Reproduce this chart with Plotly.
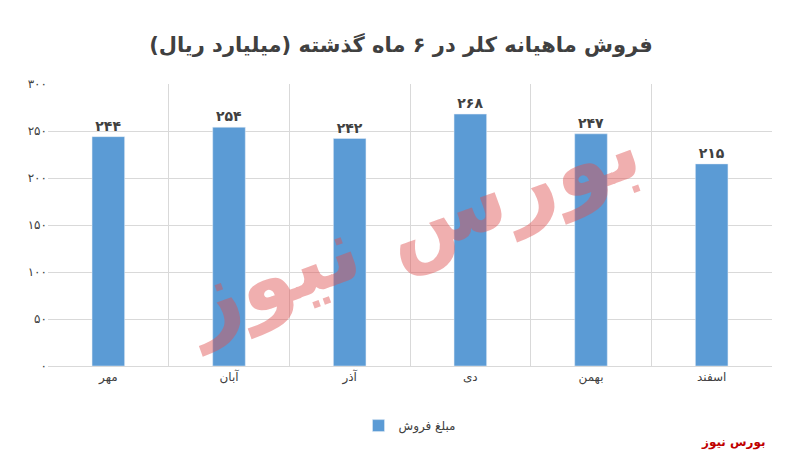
import plotly.graph_objects as go

months = ["مهر", "آبان", "آذر", "دی", "بهمن", "اسفند"]
sales = [244, 254, 242, 268, 247, 215]
sales_labels = ["۲۴۴", "۲۵۴", "۲۴۲", "۲۶۸", "۲۴۷", "۲۱۵"]
y_ticks = [0, 50, 100, 150, 200, 250, 300]
y_tick_text = ["۰", "۵۰", "۱۰۰", "۱۵۰", "۲۰۰", "۲۵۰", "۳۰۰"]

xs = list(range(len(months)))

fig = go.Figure()
fig.add_trace(go.Bar(
    x=xs, y=sales, name="مبلغ فروش", width=0.27,
    marker_color="#5b9bd5",
    text=["<b>" + t + "</b>" for t in sales_labels], textposition="outside",
    textfont=dict(size=14, color="#404040", family="DejaVu Sans"),
    cliponaxis=False,
))

fig.update_layout(
    width=786, height=453,
    paper_bgcolor="white", plot_bgcolor="white",
    title=dict(text="<b>فروش ماهیانه کلر در ۶ ماه گذشته (میلیارد ریال)</b>",
               x=0.5, y=0.935, font=dict(size=21, color="#404040", family="DejaVu Sans")),
    margin=dict(l=40, r=22, t=76, b=95),
    showlegend=True,
    legend=dict(orientation="h", x=0.5, xanchor="center", y=-0.16,
                font=dict(size=12, color="#404040", family="DejaVu Sans")),
    annotations=[
        dict(text="<b>بورس نیوز</b>", xref="paper", yref="paper", x=0.5, y=0.5,
             showarrow=False, textangle=-20, opacity=0.45,
             font=dict(size=90, color="#e05050", family="DejaVu Sans")),
        dict(text="<b>بورس نیوز</b>", xref="paper", yref="paper", x=0.995, y=-0.27,
             xanchor="right", yanchor="middle", showarrow=False,
             font=dict(size=12, color="#c00000", family="DejaVu Sans")),
    ],
)
fig.update_xaxes(
    range=[-0.5, 5.5], tickvals=xs, ticktext=months, showgrid=False,
    showline=True, linecolor="#d9d9d9", ticks="",
    tickfont=dict(size=12, color="#404040", family="DejaVu Sans"),
    minor=dict(tickvals=[i + 0.5 for i in xs[:-1]], showgrid=True, gridcolor="#d9d9d9"),
)
fig.update_yaxes(
    range=[0, 300], tickvals=y_ticks, ticktext=y_tick_text,
    gridcolor="#d9d9d9", zeroline=False,
    tickfont=dict(size=12, color="#404040", family="DejaVu Sans"),
)

fig.write_html("out.html")
